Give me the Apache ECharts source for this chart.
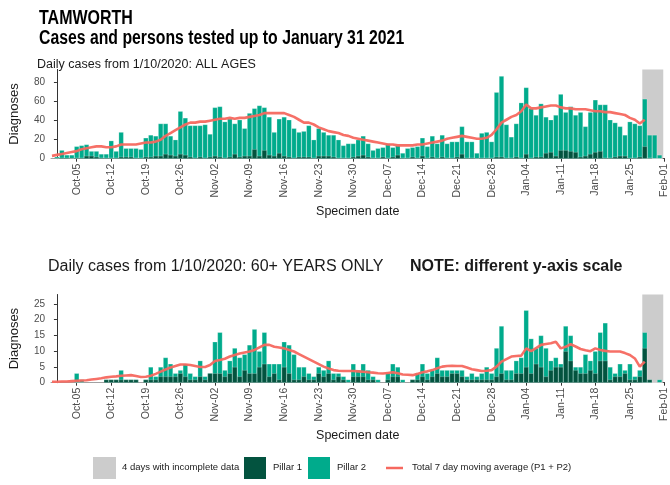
<!DOCTYPE html>
<html><head><meta charset="utf-8">
<script src="https://cdn.jsdelivr.net/npm/echarts@6/dist/echarts.min.js"></script>
<style>html,body{margin:0;padding:0;background:#fff}#c{width:670px;height:485px}</style>
</head><body><div id="c"></div>
<script>
// Daily series start on this date (index 0) and run to 2021-01-31
const firstDay = '2020-09-30';
// ALL AGES: total daily cases (Pillar 1 + Pillar 2)
const allTotal = [0,
 2,9,4,4,13,14,15,8,8,5,
 5,19,8,28,11,11,11,10,22,25,
 24,37,37,24,20,50,43,35,35,35,
 36,26,54,55,39,42,37,41,32,48,
 53,56,54,44,28,42,44,41,32,28,
 29,35,20,32,28,25,25,20,14,16,
 16,20,24,16,9,11,12,16,12,14,
 6,11,12,13,22,13,24,16,25,16,
 18,18,34,18,18,6,27,28,18,70,
 87,36,23,37,59,75,53,46,58,44,
 41,46,68,49,55,46,49,34,49,62,
 57,57,41,38,34,25,39,37,35,63,
 25,25,4];
// ALL AGES: Pillar 1 daily cases
const allPillar1 = [0,
 0,1,1,0,1,1,3,3,2,1,
 1,1,1,2,2,2,1,1,2,2,
 3,3,5,4,3,5,4,2,1,2,
 1,2,3,2,1,2,5,2,3,3,
 10,3,9,4,3,6,3,2,1,2,
 2,2,1,3,3,3,2,1,1,1,
 2,3,4,2,1,1,2,1,2,4,
 1,1,2,1,3,1,2,1,2,1,
 1,2,5,1,1,0,1,1,1,2,
 2,1,1,2,1,5,1,2,2,6,
 7,3,9,9,8,7,2,3,5,7,
 8,1,1,2,3,3,1,1,2,13,
 1,0,0];
// ALL AGES: total 7 day moving average (ends 2021-01-28)
const allMA = [3,
 4,5,6,7,8,10,11,12,13,13,
 12,12,13,15,15,15,15,16,17,17,
 18,20,24,27,30,33,36,38,38,39,
 39,40,41,42,42,43,42,43,43,44,
 45,46,48,48,48,48,48,46,44,41,
 38,38,36,33,31,29,28,27,25,24,
 22,21,20,19,18,17,16,15,15,14,
 14,14,14,15,15,16,17,18,19,21,
 22,23,24,23,22,21,21,22,25,31,
 38,41,44,46,50,57,53,53,54,55,
 56,56,54,53,53,52,52,52,51,50,
 50,49,49,48,47,46,43,41,37,41];
// 60+ YEARS: total daily cases
const oldTotal = [0,
 0,0,0,0,3,1,0,0,0,0,
 1,1,1,4,1,1,1,0,1,5,
 2,5,8,6,3,4,6,3,2,7,
 2,3,13,16,4,7,11,8,9,12,
 17,10,16,6,6,6,13,12,9,5,
 5,3,2,5,4,7,3,3,2,1,
 6,4,6,4,2,1,0,3,6,5,
 1,0,1,3,6,3,4,8,4,4,
 4,4,4,2,3,2,3,5,3,11,
 18,4,4,7,8,23,14,11,15,11,
 7,8,6,18,15,5,5,9,7,10,
 16,19,5,3,6,4,6,2,4,16,
 1,0,1];
// 60+ YEARS: Pillar 1 daily cases
const oldPillar1 = [0,
 0,0,0,0,0,0,0,0,0,0,
 1,1,1,1,1,1,1,0,1,1,
 1,2,2,2,2,3,2,1,1,2,
 1,3,3,3,2,3,5,2,4,3,
 3,5,6,2,3,1,5,3,1,1,
 2,1,1,3,2,3,1,2,1,0,
 2,2,2,1,1,0,0,1,2,2,
 0,0,1,1,2,1,2,3,2,2,
 3,3,2,1,1,1,1,1,1,2,
 3,1,1,3,3,5,3,6,5,2,
 4,5,5,10,7,4,3,3,4,3,
 7,7,1,2,2,3,1,1,2,11,
 1,0,0];
// 60+ YEARS: total 7 day moving average
const oldMA = [0.3,
 0.3,0.4,0.4,0.5,0.6,0.7,0.8,1.0,1.2,1.4,
 1.7,1.9,2.0,2.2,2.3,2.4,2.1,1.8,1.9,2.2,
 2.8,3.5,4.2,4.8,5.3,5.8,5.8,5.6,5.3,5.0,
 5.0,5.6,6.9,7.2,7.6,8.3,8.8,9.3,9.6,9.9,
 10.4,11.2,12.0,12.0,11.4,11.2,10.9,10.4,9.9,9.1,
 8.3,7.5,6.7,5.9,5.1,4.5,4.0,3.8,3.7,3.7,
 3.7,3.6,3.5,3.3,3.2,3.0,2.9,3.1,3.3,3.0,
 2.6,2.5,2.4,2.8,3.3,3.6,4.0,4.6,5.1,5.3,
 5.4,5.3,5.3,4.8,4.3,4.0,3.7,3.8,4.0,5.1,
 6.7,7.5,8.3,8.5,8.6,10.9,10.0,11.0,12.0,12.3,
 12.5,13.0,10.9,11.4,12.2,11.5,10.7,10.3,10.0,10.9,
 10.4,10.1,9.9,9.9,9.9,9.4,8.8,7.7,5.1,6.7];
// x-axis tick labels and their dates
const tickLabels = ['Oct-05','Oct-12','Oct-19','Oct-26','Nov-02','Nov-09','Nov-16','Nov-23','Nov-30',
 'Dec-07','Dec-14','Dec-21','Dec-28','Jan-04','Jan-11','Jan-18','Jan-25','Feb-01'];
const tickDates = ['2020-10-05','2020-10-12','2020-10-19','2020-10-26','2020-11-02','2020-11-09','2020-11-16',
 '2020-11-23','2020-11-30','2020-12-07','2020-12-14','2020-12-21','2020-12-28','2021-01-04','2021-01-11',
 '2021-01-18','2021-01-25','2021-02-01'];
const incompleteDays = ['2021-01-28','2021-01-31'];
const yTicksAll = [0,20,40,60,80];
const yTicksOld = [0,5,10,15,20,25];

const DAY = 86400000;
const origin = Date.parse('2020-10-01');
const dayOf = s => (Date.parse(s) - origin) / DAY;
const d0 = dayOf(firstDay);
const xs = allTotal.map((_, i) => d0 + i);
const tickX = tickDates.map(dayOf);
const labelOf = {};
tickX.forEach((x, i) => labelOf[x] = tickLabels[i]);

const C_P1 = '#03533f', C_P2 = '#00ab8c', C_GREY = '#cccccc', C_LINE = '#f6685f';
const FONT = 'Liberation Sans, Arial, sans-serif';

function xAxis(gi) {
  return {
    type: 'value', gridIndex: gi, min: -1.2, max: 123,
    axisLine: {show: true, onZero: false, lineStyle: {color: '#333', width: 1}},
    axisTick: {show: true, length: 3, lineStyle: {color: '#333'}, customValues: tickX},
    axisLabel: {customValues: tickX, rotate: 90, formatter: v => labelOf[v] || '',
      fontSize: 10.5, color: '#4d4d4d', margin: 5, fontFamily: FONT},
    splitLine: {show: false},
    name: 'Specimen date', nameLocation: 'middle', nameGap: 46,
    nameTextStyle: {fontSize: 12.5, color: '#1a1a1a', fontFamily: FONT}
  };
}
function yAxis(gi, max, interval, ticks) {
  return {
    type: 'value', gridIndex: gi, min: 0, max: max, interval: interval,
    axisLine: {show: true, lineStyle: {color: '#333', width: 1}},
    axisTick: {show: true, length: 3, lineStyle: {color: '#333'}, customValues: ticks},
    axisLabel: {customValues: ticks, fontSize: 10, color: '#4d4d4d', margin: 6, fontFamily: FONT},
    splitLine: {show: false},
    name: 'Diagnoses', nameLocation: 'middle', nameGap: 30,
    nameTextStyle: {fontSize: 13, color: '#1a1a1a', fontFamily: FONT}
  };
}
function pairs(arr) { return arr.map((v, i) => [xs[i], v]); }
// Pillar 2 sits on top of Pillar 1: the total bar is drawn, and Pillar 1 overlays its lower part.
function barSeries(gi, values, color, name, z, extra) {
  return Object.assign({
    type: 'bar', name: name, xAxisIndex: gi, yAxisIndex: gi, z: z,
    barWidth: 5, barGap: '-100%', data: pairs(values),
    itemStyle: {color: color, borderColor: 'rgba(255,255,255,0.45)', borderWidth: 0.5},
    emphasis: {disabled: true}, silent: true
  }, extra || {});
}
function lineSeries(gi, values) {
  return {
    type: 'line', name: 'Total 7 day moving average (P1 + P2)', xAxisIndex: gi, yAxisIndex: gi,
    data: pairs(values), symbol: 'none', smooth: false, z: 5,
    lineStyle: {color: C_LINE, width: 2.6, opacity: 0.95}, silent: true
  };
}
const area = {
  silent: true, itemStyle: {color: C_GREY},
  data: [[{xAxis: dayOf(incompleteDays[0]) - 0.5}, {xAxis: dayOf(incompleteDays[1]) + 0.75}]]
};

const chart = echarts.init(document.getElementById('c'), null, {renderer: 'canvas'});
chart.setOption({
  animation: false,
  backgroundColor: '#ffffff',
  title: [
    {text: 'Daily cases from 1/10/2020: ALL AGES', left: 37, top: 58, padding: 0,
      textStyle: {fontFamily: FONT, fontWeight: 'normal', fontSize: 12.5, color: '#1a1a1a'}},
    {text: 'Daily cases from 1/10/2020: 60+ YEARS ONLY', left: 48, top: 259, padding: 0,
      textStyle: {fontFamily: FONT, fontWeight: 'normal', fontSize: 16, color: '#1a1a1a'}},
    {text: 'NOTE: different y-axis scale', left: 410, top: 259, padding: 0,
      textStyle: {fontFamily: FONT, fontWeight: 'bold', fontSize: 16, color: '#1a1a1a'}}
  ],
  grid: [
    {left: 49, right: 0.7, top: 69.4, height: 89.3, containLabel: false},
    {left: 49, right: 0.7, top: 294.5, height: 88.2, containLabel: false}
  ],
  xAxis: [xAxis(0), xAxis(1)],
  yAxis: [yAxis(0, 94, 20, yTicksAll), yAxis(1, 28, 5, yTicksOld)],
  series: [
    barSeries(0, allTotal, C_P2, 'Pillar 2', 2, {markArea: area}),
    barSeries(0, allPillar1, C_P1, 'Pillar 1', 3),
    lineSeries(0, allMA),
    barSeries(1, oldTotal, C_P2, 'Pillar 2', 2, {markArea: area}),
    barSeries(1, oldPillar1, C_P1, 'Pillar 1', 3),
    lineSeries(1, oldMA)
  ],
  graphic: [
    {type: 'text', x: 39, y: 8, scaleX: 0.8, style: {text: 'TAMWORTH', font: 'bold 20px ' + FONT, fill: '#000'}},
    {type: 'text', x: 39, y: 29, scaleX: 0.81, style: {text: 'Cases and persons tested up to January 31 2021', font: 'bold 19.5px ' + FONT, fill: '#000'}},
    {type: 'rect', left: 93, top: 457, shape: {width: 23, height: 22}, style: {fill: C_GREY}},
    {type: 'text', left: 122, top: 462, style: {text: '4 days with incomplete data', font: '9.5px ' + FONT, fill: '#1a1a1a'}},
    {type: 'rect', left: 244, top: 457, shape: {width: 22, height: 22}, style: {fill: C_P1}},
    {type: 'text', left: 273, top: 462, style: {text: 'Pillar 1', font: '9.5px ' + FONT, fill: '#1a1a1a'}},
    {type: 'rect', left: 308, top: 457, shape: {width: 22, height: 22}, style: {fill: C_P2}},
    {type: 'text', left: 337, top: 462, style: {text: 'Pillar 2', font: '9.5px ' + FONT, fill: '#1a1a1a'}},
    {type: 'line', shape: {x1: 386, y1: 468, x2: 403, y2: 468}, style: {stroke: C_LINE, lineWidth: 2.5}},
    {type: 'text', left: 412, top: 462, style: {text: 'Total 7 day moving average (P1 + P2)', font: '9.5px ' + FONT, fill: '#1a1a1a'}}
  ]
});
</script>
</body></html>
